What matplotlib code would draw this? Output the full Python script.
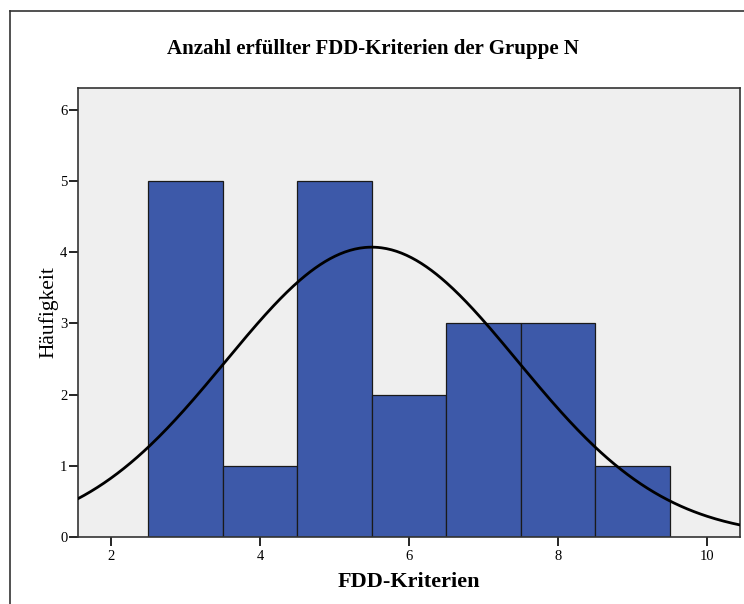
import numpy as np
import matplotlib.pyplot as plt
from matplotlib.lines import Line2D

plt.rcParams['font.family'] = ['Liberation Serif', 'DejaVu Serif']

# Histogram data (integer scores, bin width 1)
scores = [3, 4, 5, 6, 7, 8, 9]
counts = [5, 1, 5, 2, 3, 3, 1]

# Normal curve fitted to the data (as SPSS draws it)
vals = np.repeat(scores, counts)
mu = vals.mean()
sd = vals.std(ddof=1)
xs = np.linspace(1.55, 10.45, 400)
ys = len(vals) * 1.0 / (sd * np.sqrt(2 * np.pi)) * np.exp(-0.5 * ((xs - mu) / sd) ** 2)

fig = plt.figure(figsize=(7.44, 6.04), dpi=100)
ax = fig.add_axes([0.1044, 0.1109, 0.8902, 0.7439])
ax.set_facecolor('#efefef')

ax.bar(scores, counts, width=1.0, color='#3d59a9', edgecolor='#1a1a1a', linewidth=0.9, zorder=2)
ax.plot(xs, ys, color='black', linewidth=2, zorder=3)

ax.set_xlim(1.553, 10.443)
ax.set_ylim(0, 6.31)
ax.set_xticks([2, 4, 6, 8, 10])
ax.set_yticks(range(7))
ax.tick_params(direction='out', length=6.5, width=1.2, labelsize=10.5, colors='black')
ax.tick_params(axis='y', pad=1)
ax.tick_params(axis='x', pad=3)
for s in ax.spines.values():
    s.set_color('#333333')
    s.set_linewidth(1.2)

ax.set_xlabel('FDD-Kriterien', fontsize=16, fontweight='bold', labelpad=6)
ax.set_ylabel('Häufigkeit', fontsize=15.5, labelpad=1)
fig.text(0.501, 0.919, 'Anzahl erfüllter FDD-Kriterien der Gruppe N',
         ha='center', va='center', fontsize=15, fontweight='bold')

# outer frame (SPSS chart border)
fig.add_artist(Line2D([0.0134, 0.0134], [-0.1, 0.9818], color='#333333', linewidth=1.2))
fig.add_artist(Line2D([0.0134, 1.1], [0.9818, 0.9818], color='#333333', linewidth=1.2))

plt.savefig('out.png', dpi=100)
